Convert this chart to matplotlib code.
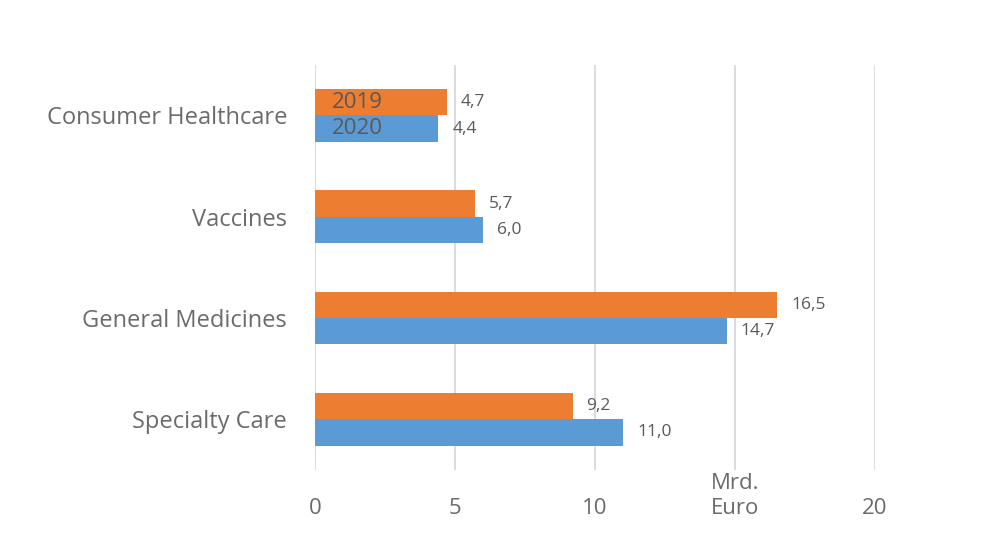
import matplotlib.pyplot as plt
import numpy as np

plt.rcParams['font.family'] = ['Open Sans', 'DejaVu Sans']

categories = ['Consumer Healthcare', 'Vaccines', 'General Medicines', 'Specialty Care']
v2019 = [4.7, 5.7, 16.5, 9.2]
v2020 = [4.4, 6.0, 14.7, 11.0]
xticks = [0, 5, 10, 15, 20]
xticklabels = ['0', '5', '10', '', '20']

orange = '#ED7D31'
blue = '#5B9BD5'
grey = '#6b6b6b'

fig = plt.figure(figsize=(10, 5.4), dpi=100)
ax = fig.add_axes([0.315, 0.13, 0.56, 0.75])

y = np.arange(len(categories))
h = 0.26
ax.barh(y - h / 2, v2019, height=h, color=orange, zorder=3)
ax.barh(y + h / 2, v2020, height=h, color=blue, zorder=3)

for i in range(len(categories)):
    ax.text(v2019[i] + 0.5, y[i] - h / 2, f'{v2019[i]:.1f}'.replace('.', ','),
            va='center', ha='left', fontsize=12.5, color='#595959')
    ax.text(v2020[i] + 0.5, y[i] + h / 2, f'{v2020[i]:.1f}'.replace('.', ','),
            va='center', ha='left', fontsize=12.5, color='#595959')

# series names written into the first bars
ax.text(0.6, y[0] - h / 2, '2019', va='center', ha='left', fontsize=16, color='#595959', zorder=4)
ax.text(0.6, y[0] + h / 2, '2020', va='center', ha='left', fontsize=16, color='#595959', zorder=4)

ax.set_ylim(len(categories) - 0.5, -0.5)
ax.set_xlim(0, 20)
ax.set_yticks(y)
ax.set_yticklabels(categories, fontsize=17, color=grey)
ax.set_xticks(xticks)
ax.set_xticklabels(xticklabels, fontsize=16, color=grey)
ax.tick_params(length=0)
ax.tick_params(axis='x', pad=20)
ax.tick_params(axis='y', pad=20)

ax.grid(axis='x', color='#D9D9D9', linewidth=1.3, zorder=0)
for s in ax.spines.values():
    s.set_visible(False)

ax.text(15, -0.065, 'Mrd.\nEuro', transform=ax.get_xaxis_transform(),
        ha='center', va='center', fontsize=16, color=grey, linespacing=1.25,
        bbox=dict(facecolor='white', edgecolor='none', pad=2))

fig.savefig('out.png')
